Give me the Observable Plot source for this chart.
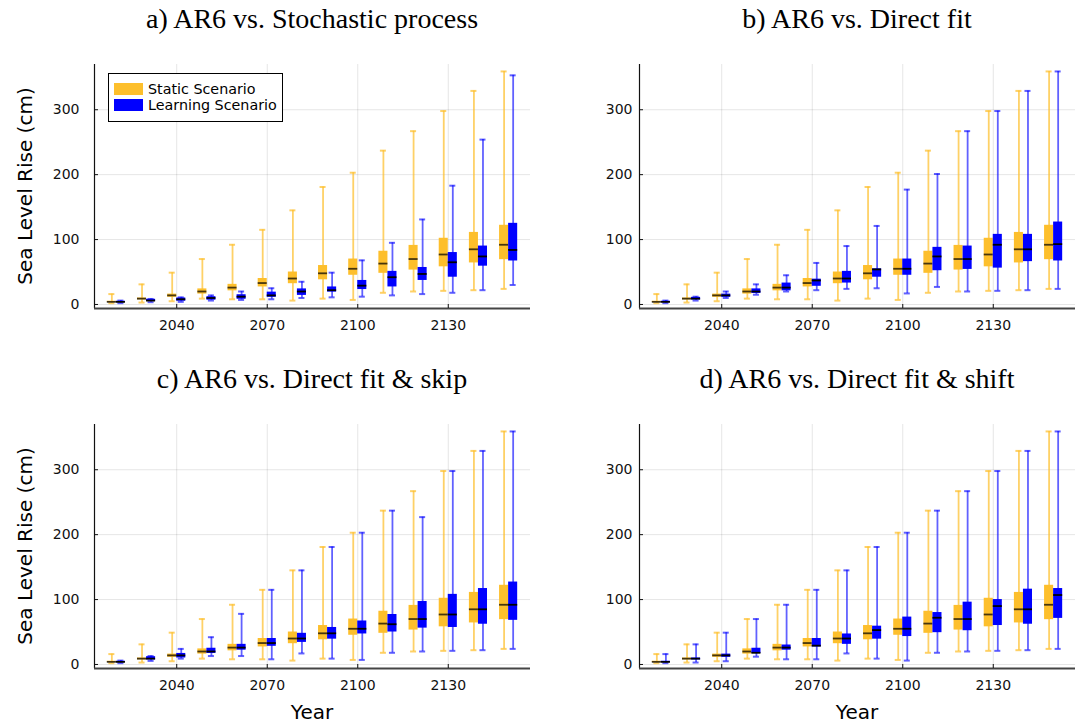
<!DOCTYPE html>
<html>
<head>
<meta charset="utf-8">
<script src="https://cdn.jsdelivr.net/npm/d3@7"></script>
<script src="https://cdn.jsdelivr.net/npm/@observablehq/plot@0.6"></script>
<style>
  html, body { margin: 0; padding: 0; background: #fff; }
  #root { position: relative; width: 1080px; height: 724px; overflow: hidden; background: #fff; font-family: "DejaVu Sans", sans-serif; color: #000; }
  .panel { position: absolute; }
  .title { position: absolute; font-family: "Liberation Serif", "Times New Roman", serif; font-size: 28px; line-height: 30px; text-align: center; white-space: nowrap; }
  .ylab { position: absolute; width: 300px; height: 24px; line-height: 24px; font-size: 20px; text-align: center; transform: rotate(-90deg); white-space: nowrap; }
  .xlab { position: absolute; width: 200px; height: 24px; line-height: 24px; font-size: 20px; text-align: center; }
  .legend { position: absolute; border: 1px solid #000; background: #fff; font-size: 14.3px; }
  .legend .row { position: absolute; left: 5px; height: 15px; line-height: 15px; white-space: nowrap; }
  .legend .sw { display: inline-block; width: 29px; height: 12px; vertical-align: top; margin-top: 1.5px; margin-right: 5px; }
</style>
</head>
<body>
<div id="root"></div>
<script>
// ---- data (cm) ----
const years = [2020, 2030, 2040, 2050, 2060, 2070, 2080, 2090, 2100, 2110, 2120, 2130, 2140, 2150];
const xTicks = [2040, 2070, 2100, 2130];
const yTicks = [0, 100, 200, 300];
const seriesNames = ["Static Scenario", "Learning Scenario"];
const panelTitles = ["a) AR6 vs. Stochastic process", "b) AR6 vs. Direct fit", "c) AR6 vs. Direct fit & skip", "d) AR6 vs. Direct fit & shift"];
const yLabel = "Sea Level Rise (cm)";
const xLabel = "Year";

// Static scenario (AR6) – same in every panel
const staticLo  = [2, 3, 5, 9, 8, 8, 6, 9, 7, 18, 20, 21, 22, 24];
const staticQ1  = [3, 7, 11, 16, 21, 27, 32, 38, 45, 48, 53, 58, 64, 69];
const staticMed = [4, 9, 14, 20, 26, 33, 40, 48, 55, 63, 70, 77, 85, 92];
const staticQ3  = [5, 10, 16, 24, 31, 40, 50, 60, 70, 82, 91, 102, 111, 122];
const staticHi  = [16, 31, 49, 70, 92, 115, 145, 181, 203, 237, 267, 298, 329, 359];

// a) Stochastic process – learning
const learnALo  = [2, 3.5, 4, 6, 7, 8, 10, 11, 12, 14, 16, 18, 22, 30];
const learnAQ1  = [3, 4.6, 5, 6.6, 8, 11, 14, 19, 23, 27, 37, 42, 59, 67];
const learnAMed = [4, 6, 8, 10, 12, 14, 20, 22, 29, 42, 47, 65, 74, 84];
const learnAQ3  = [5, 8, 10, 12, 15, 19, 24, 27, 37, 51, 57, 80, 90, 125];
const learnAHi  = [6, 8.5, 11, 14, 20, 25, 35, 49, 68, 95, 131, 183, 254, 353];

// b) Direct fit – learning
const learnBLo  = [2, 6, 10, 15, 20, 22, 24, 25, 17, 27, 20, 21, 22, 24];
const learnBQ1  = [3, 7, 11, 17, 21, 28, 33, 42, 45, 52, 54, 56, 66, 67];
const learnBMed = [4, 9, 14, 20, 26, 37, 40, 54, 55, 74, 70, 92, 85, 93];
const learnBQ3  = [5, 11, 16, 24, 33, 39, 51, 55, 70, 88, 90, 108, 108, 127];
const learnBHi  = [6, 12, 20, 31, 45, 64, 90, 121, 177, 201, 267, 298, 329, 359];

// c) Direct fit & skip – learning
const learnCLo  = [2, 5.5, 9, 13, 13, 8, 17, 9, 7, 18, 20, 21, 22, 24];
const learnCQ1  = [3, 7, 10, 17, 22, 28, 34, 39, 47, 50, 56, 57, 62, 68];
const learnCMed = [4, 9, 14, 20, 26, 33, 40, 48, 55, 62, 70, 77, 85, 92];
const learnCQ3  = [5, 12, 17, 25, 31, 40, 48, 57, 67, 77, 97, 108, 117, 127];
const learnCHi  = [6, 13, 24, 42, 78, 115, 145, 181, 203, 237, 227, 298, 329, 359];

// d) Direct fit & shift – learning
const learnDLo  = [2, 3, 5, 12, 8, 8, 17, 9, 6, 18, 20, 21, 22, 24];
const learnDQ1  = [3, 7, 11, 17, 22, 27, 31, 39, 43, 49, 52, 60, 62, 71];
const learnDMed = [4, 9, 14, 18, 26, 29, 40, 53, 55, 72, 70, 90, 85, 107];
const learnDQ3  = [5, 10, 16, 25, 30, 40, 47, 59, 73, 80, 96, 100, 116, 117];
const learnDHi  = [16, 31, 49, 70, 92, 115, 145, 181, 203, 237, 267, 298, 329, 359];

// ---- styling ----
const colors = {"Static Scenario": "#FDBF2C", "Learning Scenario": "#0000FF"};
const xDomain = [2012.75, 2157.25];
const yDomain = [-6.2, 369.7];
const boxW = 3;      // years
const capW = 1;      // half-width of caps, years

function makeRows(series, lo, q1, med, q3, hi) {
  return years.map((year, i) => {
    const x1 = series === seriesNames[0] ? year - boxW : year;
    return {series, year, x1, x2: x1 + boxW, xc: x1 + boxW / 2,
            lo: lo[i], q1: q1[i], med: med[i], q3: q3[i], hi: hi[i]};
  });
}

const staticRows = makeRows(seriesNames[0], staticLo, staticQ1, staticMed, staticQ3, staticHi);
const learnSets = [
  makeRows(seriesNames[1], learnALo, learnAQ1, learnAMed, learnAQ3, learnAHi),
  makeRows(seriesNames[1], learnBLo, learnBQ1, learnBMed, learnBQ3, learnBHi),
  makeRows(seriesNames[1], learnCLo, learnCQ1, learnCMed, learnCQ3, learnCHi),
  makeRows(seriesNames[1], learnDLo, learnDQ1, learnDMed, learnDQ3, learnDHi)
];

function boxMarks(rows) {
  const c = colors[rows[0].series];
  const isStatic = rows[0].series === seriesNames[0];
  const wOp = isStatic ? 0.72 : 0.62;
  return [
    Plot.ruleX(rows, {x: "xc", y1: "lo", y2: "hi", stroke: c, strokeOpacity: wOp, strokeWidth: 1.8}),
    Plot.ruleY(rows, {y: "hi", x1: d => d.xc - capW, x2: d => d.xc + capW, stroke: c, strokeOpacity: wOp, strokeWidth: 2}),
    Plot.ruleY(rows, {y: "lo", x1: d => d.xc - capW, x2: d => d.xc + capW, stroke: c, strokeOpacity: wOp, strokeWidth: 2}),
    Plot.rect(rows, {x1: "x1", x2: "x2", y1: "q1", y2: "q3", fill: c}),
    Plot.ruleY(rows, {y: "med", x1: "x1", x2: "x2", stroke: "#000", strokeOpacity: isStatic ? 0.72 : 1, strokeWidth: 1.8})
  ];
}

function panel(learnRows, opts) {
  return Plot.plot({
    width: 540,
    height: 362,
    marginLeft: opts.marginLeft,
    marginRight: opts.marginRight,
    marginTop: 64,
    marginBottom: 54,
    style: {fontFamily: "DejaVu Sans, sans-serif", fontSize: "14px", color: "#000", background: "transparent"},
    x: {type: "linear", domain: xDomain, axis: null},
    y: {type: "linear", domain: yDomain, axis: null},
    marks: [
      Plot.gridX(xTicks, {stroke: "#000", strokeOpacity: 0.1, strokeWidth: 1}),
      Plot.gridY(yTicks, {stroke: "#000", strokeOpacity: 0.1, strokeWidth: 1}),
      ...boxMarks(staticRows),
      ...boxMarks(learnRows),
      Plot.ruleX([xDomain[0]], {stroke: "#111", strokeWidth: 1.2}),
      Plot.ruleY([yDomain[0]], {stroke: "#444", strokeWidth: 2}),
      Plot.axisY(yTicks, {tickSize: 4, dx: 4, tickFormat: () => "", label: null, stroke: "#111"}),
      Plot.axisX(xTicks, {tickSize: 4, dy: -4, tickFormat: () => "", label: null, stroke: "#111"}),
      Plot.axisY(yTicks, {tickSize: 0, tickPadding: opts.yPad, label: null, fill: "#111"}),
      Plot.axisX(xTicks, {tickSize: 0, tickPadding: 12, tickFormat: d => String(d), label: null, fill: "#111"})
    ]
  });
}

const root = document.getElementById("root");
const layout = [
  {left: 0,   top: 0,   marginLeft: 94, marginRight: 10, yPad: 15},
  {left: 540, top: 0,   marginLeft: 99, marginRight: 5,  yPad: 7},
  {left: 0,   top: 360, marginLeft: 94, marginRight: 10, yPad: 15},
  {left: 540, top: 360, marginLeft: 99, marginRight: 5,  yPad: 7}
];

layout.forEach((L, i) => {
  const div = document.createElement("div");
  div.className = "panel";
  div.style.left = L.left + "px";
  div.style.top = L.top + "px";
  div.appendChild(panel(learnSets[i], L));
  root.appendChild(div);

  const plotLeft = L.left + L.marginLeft;
  const plotW = 540 - L.marginLeft - L.marginRight;
  const t = document.createElement("div");
  t.className = "title";
  t.style.left = plotLeft + "px";
  t.style.width = plotW + "px";
  t.style.top = (L.top + 4) + "px";
  t.textContent = panelTitles[i];
  root.appendChild(t);

  if (i % 2 === 0) {
    const yl = document.createElement("div");
    yl.className = "ylab";
    yl.style.left = (25 - 150) + "px";
    yl.style.top = (L.top + 186 - 12) + "px";
    yl.textContent = yLabel;
    root.appendChild(yl);
  }
  if (i >= 2) {
    const xl = document.createElement("div");
    xl.className = "xlab";
    xl.style.left = (plotLeft + plotW / 2 - 100) + "px";
    xl.style.top = (L.top + 340) + "px";
    xl.textContent = xLabel;
    root.appendChild(xl);
  }
});

// legend (panel a)
const leg = document.createElement("div");
leg.className = "legend";
leg.style.left = "108px";
leg.style.top = "73px";
leg.style.width = "173px";
leg.style.height = "47px";
seriesNames.forEach((s, i) => {
  const r = document.createElement("div");
  r.className = "row";
  r.style.top = (7.5 + i * 16) + "px";
  const sw = document.createElement("span");
  sw.className = "sw";
  sw.style.background = colors[s];
  r.appendChild(sw);
  r.appendChild(document.createTextNode(s));
  leg.appendChild(r);
});
root.appendChild(leg);
</script>
</body>
</html>
